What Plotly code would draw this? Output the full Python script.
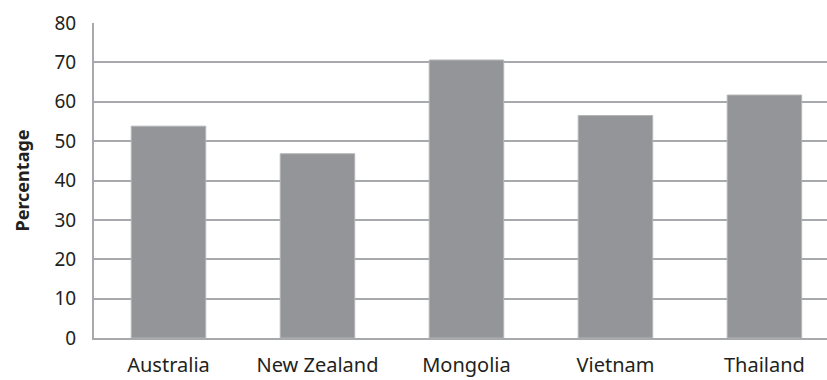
import plotly.graph_objects as go

countries = ["Australia", "New Zealand", "Mongolia", "Vietnam", "Thailand"]
percentages = [53.8, 46.8, 70.6, 56.5, 61.7]
y_ticks = [0, 10, 20, 30, 40, 50, 60, 70, 80]

fig = go.Figure(
    go.Bar(
        x=list(range(len(countries))),
        y=percentages,
        width=0.5,
        marker=dict(color="#939598", line=dict(color="#b4b5b7", width=1)),
    )
)

font_family = "Noto Sans"
fig.update_layout(
    width=827,
    height=380,
    margin=dict(l=94, r=0, t=23, b=42),
    paper_bgcolor="white",
    plot_bgcolor="white",
    showlegend=False,
    font=dict(family=font_family, color="#231f20", size=18),
)
fig.update_xaxes(
    range=[-0.5, 4.42],
    tickmode="array",
    tickvals=list(range(len(countries))),
    ticktext=countries,
    showgrid=False,
    showline=True,
    linecolor="#a7a9ac",
    linewidth=2,
    ticks="outside",
    ticklen=8,
    tickcolor="rgba(0,0,0,0)",
    tickfont=dict(size=20),
    zeroline=False,
    automargin=False,
)
fig.update_yaxes(
    range=[0, 80],
    tickmode="array",
    tickvals=y_ticks,
    showgrid=True,
    gridcolor="#a7a9ac",
    gridwidth=1.5,
    showline=True,
    linecolor="#a7a9ac",
    linewidth=2,
    ticks="outside",
    ticklen=12,
    tickcolor="rgba(0,0,0,0)",
    tickfont=dict(size=19),
    zeroline=False,
    automargin=False,
    title=dict(text="<b>Percentage</b>", font=dict(size=18), standoff=20),
)

fig.write_html("out.html")
